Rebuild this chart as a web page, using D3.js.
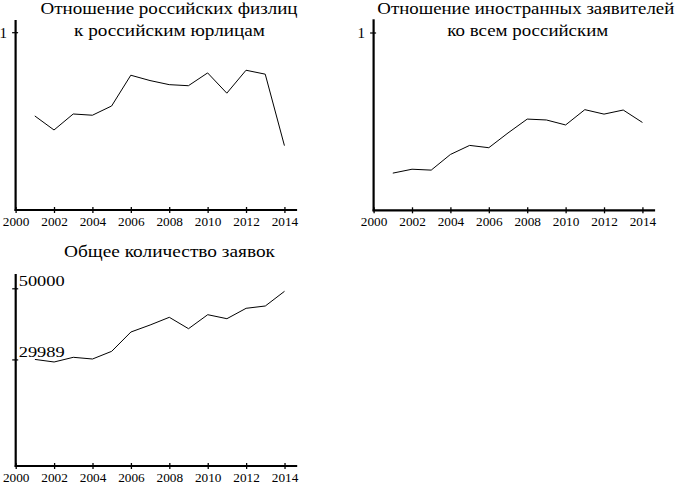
<!DOCTYPE html>
<html>
<head>
<meta charset="utf-8">
<script src="https://cdn.jsdelivr.net/npm/d3@7"></script>
<style>
  html, body { margin: 0; padding: 0; background: #fff; }
  svg { display: block; }
</style>
</head>
<body>
<div id="chart"></div>
<script>
const years = [2001, 2002, 2003, 2004, 2005, 2006, 2007, 2008, 2009, 2010, 2011, 2012, 2013, 2014];
const yearTicks = [2000, 2002, 2004, 2006, 2008, 2010, 2012, 2014];

// отношение российских физлиц к российским юрлицам
const ratioPersons = [0.529, 0.450, 0.540, 0.533, 0.585, 0.758, 0.728, 0.705, 0.699, 0.771, 0.657, 0.786, 0.764, 0.362];
// отношение иностранных заявителей ко всем российским
const ratioForeign = [0.209, 0.231, 0.226, 0.314, 0.365, 0.352, 0.435, 0.513, 0.508, 0.480, 0.566, 0.541, 0.564, 0.494];
// общее количество заявок
const totalApps = [29989, 29263, 30585, 30107, 32274, 37704, 39674, 41840, 38633, 42572, 41446, 44373, 45020, 49156];

const ratioTicks = [1];
const totalTicks = [29989, 50000];

const width = 679;
const height = 482;
const FONT = '"Liberation Serif", "Noto Serif", serif';

const svg = d3.select("#chart").append("svg")
  .attr("width", width).attr("height", height)
  .attr("viewBox", `0 0 ${width} ${height}`);

function panel(opts) {
  const g = svg.append("g");
  const x = d3.scaleLinear().domain([2000, 2014.66]).range([opts.left, opts.left + 281.5]);
  const y = d3.scaleLinear().domain([0, opts.max]).range([opts.bottom, opts.bottom - opts.unitPx * opts.max]);
  const yTop = opts.bottom - opts.axisHeight;

  // заголовок
  opts.title.forEach((t) => {
    g.append("text")
      .attr("x", t.cx).attr("y", t.y)
      .attr("text-anchor", "middle")
      .attr("textLength", t.w)
      .attr("lengthAdjust", "spacingAndGlyphs")
      .style("font-family", FONT).style("font-size", "16.3px").style("fill", "#000")
      .text(t.text);
  });

  // ось x
  const xAxis = g.append("g")
    .attr("transform", `translate(0,${opts.bottom})`)
    .call(d3.axisBottom(x).tickValues(yearTicks).tickFormat(d3.format("d")).tickSizeOuter(0).tickPadding(0));
  xAxis.select(".domain").remove();
  xAxis.append("line")
    .attr("x1", opts.left - 1).attr("x2", x.range()[1])
    .attr("stroke", "#000").attr("stroke-width", 2.2);
  xAxis.selectAll(".tick line").attr("y1", -3).attr("y2", 3).attr("stroke-width", 1.3);
  xAxis.selectAll(".tick text")
    .attr("y", 16).attr("dy", null)
    .attr("textLength", 26.5)
    .attr("lengthAdjust", "spacingAndGlyphs")
    .style("font-family", FONT).style("font-size", "12.3px");

  // ось y
  const yAxis = g.append("g")
    .attr("transform", `translate(${opts.left},0)`)
    .call(d3.axisLeft(y).tickValues(opts.yTicks).tickFormat(d3.format("d")).tickSizeOuter(0));
  yAxis.select(".domain").remove();
  yAxis.append("line")
    .attr("y1", opts.bottom + 1).attr("y2", yTop)
    .attr("stroke", "#000").attr("stroke-width", 2.2);
  yAxis.selectAll(".tick line").attr("x1", -3.5).attr("x2", 2.5).attr("stroke-width", 1.2);
  if (opts.labelsInside) {
    yAxis.selectAll(".tick text")
      .attr("text-anchor", "start").attr("x", 3).attr("dy", "-0.17em")
      .attr("textLength", 46)
      .attr("lengthAdjust", "spacingAndGlyphs")
      .style("font-family", FONT).style("font-size", "15px");
  } else {
    yAxis.selectAll(".tick text")
      .attr("x", -8.5).attr("dy", "0.34em")
      .style("font-family", FONT).style("font-size", "15px");
  }

  // линия данных
  const line = d3.line().x((d, i) => x(years[i])).y((d) => y(d));
  g.append("path")
    .datum(opts.values)
    .attr("d", line)
    .attr("fill", "none")
    .attr("stroke", "#000")
    .attr("stroke-width", 1)
    .attr("stroke-linejoin", "miter");
}

panel({
  left: 15.6, bottom: 210, unitPx: 177.8, max: 1, axisHeight: 190,
  yTicks: ratioTicks, values: ratioPersons,
  title: [
    { text: "Отношение российских физлиц", cx: 169, y: 13.6, w: 257 },
    { text: "к российским юрлицам", cx: 169.5, y: 36, w: 191 }
  ]
});

panel({
  left: 373.6, bottom: 210.3, unitPx: 177.8, max: 1, axisHeight: 191,
  yTicks: ratioTicks, values: ratioForeign,
  title: [
    { text: "Отношение иностранных заявителей", cx: 525.8, y: 13.6, w: 297 },
    { text: "ко всем российским", cx: 527.8, y: 36, w: 161 }
  ]
});

panel({
  left: 15.7, bottom: 466, unitPx: 177.7 / 50000, max: 50000, axisHeight: 192,
  yTicks: totalTicks, values: totalApps, labelsInside: true,
  title: [
    { text: "Общее количество заявок", cx: 169.5, y: 256.7, w: 211 }
  ]
});
</script>
</body>
</html>
